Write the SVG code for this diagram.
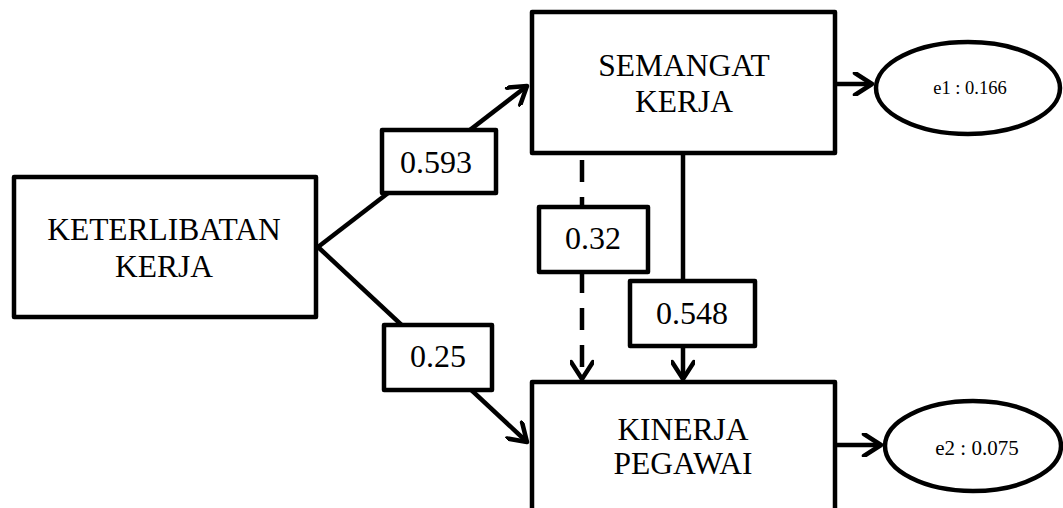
<svg xmlns="http://www.w3.org/2000/svg" width="1063" height="508" viewBox="0 0 1063 508">
<style>
.box{fill:#fff;stroke:#000;stroke-width:4.5;stroke-linejoin:round}
.lbl{fill:#fff;stroke:#000;stroke-width:4.5;stroke-linejoin:round}
.edge{stroke:#000;stroke-width:4.5;fill:none}
.t{font-family:"Liberation Serif","Times New Roman",serif;font-size:31.5px;fill:#000;text-anchor:middle}
.n{font-family:"Liberation Serif","Times New Roman",serif;font-size:32px;fill:#000;text-anchor:middle}
.e{font-family:"Liberation Serif","Times New Roman",serif;fill:#000;text-anchor:middle}
</style>
<defs>
<marker id="arr" viewBox="0 0 24 24" markerUnits="userSpaceOnUse" markerWidth="24" markerHeight="24" refX="20" refY="12" orient="auto">
<path d="M3,1 L20,12 L3,23" fill="none" stroke="#000" stroke-width="4.5" stroke-linecap="round" stroke-linejoin="round"/>
</marker>
</defs>
<rect width="1063" height="508" fill="#fff"/>
<g id="connectors">
<line class="edge" x1="318" y1="247" x2="527" y2="86" marker-end="url(#arr)"/>
<line class="edge" x1="318" y1="247" x2="527" y2="442" marker-end="url(#arr)"/>
<line class="edge" x1="582" y1="160" x2="582" y2="379" stroke-dasharray="22 15" marker-end="url(#arr)"/>
<line class="edge" x1="683" y1="155" x2="683" y2="379" marker-end="url(#arr)"/>
<line class="edge" x1="837" y1="84" x2="872" y2="84" marker-end="url(#arr)"/>
<line class="edge" x1="837" y1="445" x2="881" y2="445" marker-end="url(#arr)"/>
</g>
<g id="keterlibatan">
<rect class="box" x="14" y="177" width="302" height="140"/>
<text class="t" x="164" y="240">KETERLIBATAN</text>
<text class="t" x="164" y="277">KERJA</text>
</g>
<g id="semangat">
<rect class="box" x="532" y="12" width="303" height="141"/>
<text class="t" x="684" y="76">SEMANGAT</text>
<text class="t" x="684" y="112">KERJA</text>
</g>
<g id="kinerja">
<rect class="box" x="532" y="382" width="303" height="140"/>
<text class="t" x="683" y="440">KINERJA</text>
<text class="t" x="683" y="474">PEGAWAI</text>
</g>
<g id="e1">
<ellipse class="box" cx="968" cy="88" rx="92" ry="46"/>
<text class="e" x="970" y="94" font-size="18.5">e1 : 0.166</text>
</g>
<g id="e2">
<ellipse class="box" cx="973" cy="446" rx="88" ry="45"/>
<text class="e" x="977" y="455" font-size="21">e2 : 0.075</text>
</g>
<g id="w593">
<rect class="lbl" x="382" y="130" width="114" height="63"/>
<text class="n" x="436" y="173">0.593</text>
</g>
<g id="w032">
<rect class="lbl" x="539" y="207" width="109" height="65"/>
<text class="n" x="593" y="249">0.32</text>
</g>
<g id="w548">
<rect class="lbl" x="630" y="281" width="125" height="65"/>
<text class="n" x="692" y="324">0.548</text>
</g>
<g id="w025">
<rect class="lbl" x="384" y="325" width="108" height="65"/>
<text class="n" x="438" y="367">0.25</text>
</g>
</svg>
